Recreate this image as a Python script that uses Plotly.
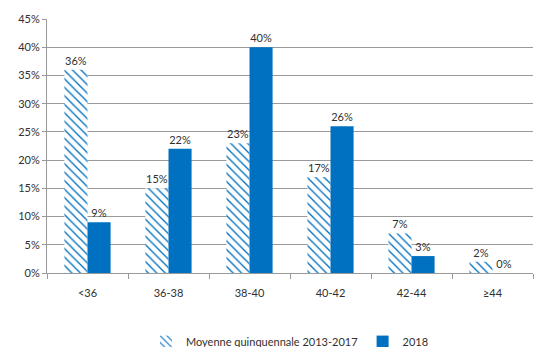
import plotly.graph_objects as go

categories = ["<36", "36-38", "38-40", "40-42", "42-44", "≥44"]
moyenne = [36, 15, 23, 17, 7, 2]
y2018 = [9, 22, 40, 26, 3, 0]
tick_vals = [0, 5, 10, 15, 20, 25, 30, 35, 40, 45]
tick_text = [f"{v}%" for v in tick_vals]

BLUE = "#0070C0"
FONT = "Lato, Open Sans, sans-serif"

fig = go.Figure()
fig.add_trace(go.Bar(
    x=categories, y=moyenne, name="Moyenne quinquennale 2013-2017",
    marker=dict(color="white", line=dict(width=0),
                pattern=dict(shape="\\", fgcolor=BLUE, bgcolor="white", size=6,
                             solidity=0.22, fgopacity=1)),
    text=[f"{v}%" for v in moyenne], textposition="outside",
    textfont=dict(size=11, color="#303030", family=FONT), cliponaxis=False,
))
fig.add_trace(go.Bar(
    x=categories, y=y2018, name="2018",
    marker=dict(color=BLUE, line=dict(width=0)),
    text=[f"{v}%" for v in y2018], textposition="outside",
    textfont=dict(size=11, color="#303030", family=FONT), cliponaxis=False,
))

fig.update_layout(
    width=550, height=347,
    margin=dict(l=47, r=17, t=19, b=74, autoexpand=False),
    plot_bgcolor="white", paper_bgcolor="white",
    barmode="group", bargap=0.43, bargroupgap=0,
    font=dict(family=FONT, size=11, color="#303030"),
    legend=dict(orientation="h", x=0.5, xanchor="center", y=-0.27, yanchor="middle",
                font=dict(size=11, color="#303030"), itemwidth=30, traceorder="normal"),
    showlegend=True,
)
fig.update_yaxes(range=[0, 45], tickvals=tick_vals, ticktext=tick_text,
                 showgrid=True, gridcolor="#9a9a9a", gridwidth=1,
                 showline=True, linecolor="#9a9a9a", ticks="outside", ticklen=4,
                 tickcolor="#9a9a9a", zeroline=False, automargin=False)
fig.update_xaxes(showline=True, linecolor="#9a9a9a", ticks="outside", ticklen=5,
                 tickcolor="#9a9a9a", tickson="boundaries", showgrid=False,
                 ticklabelstandoff=10, automargin=False)

fig.write_html("out.html", config={"displayModeBar": False},
               post_script="document.body.style.margin='0';document.body.style.overflow='hidden';")
